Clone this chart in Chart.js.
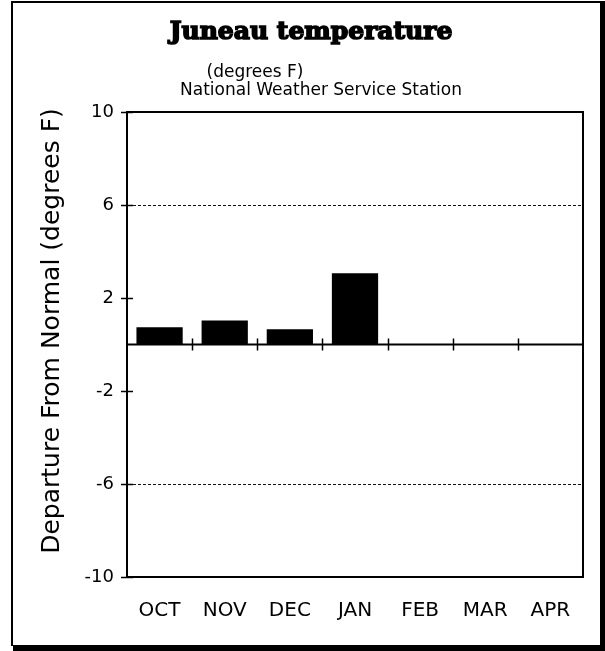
<!DOCTYPE html>
<html>
<head>
<meta charset="utf-8">
<title>Juneau temperature</title>
<script src="https://cdn.jsdelivr.net/npm/chart.js@4/dist/chart.umd.min.js"></script>
<style>
  html, body { margin: 0; padding: 0; background: #fff; }
  canvas { display: block; }
</style>
</head>
<body>
<canvas id="chart" width="605" height="651"></canvas>
<script>
// Monthly departure from normal temperature, Juneau (degrees F)
const months = ['OCT', 'NOV', 'DEC', 'JAN', 'FEB', 'MAR', 'APR'];
const departures = [0.74, 1.03, 0.66, 3.06, null, null, null];
const yTickValues = [-10, -6, -2, 2, 6, 10];
const dottedGridValues = [-6, 6];

const titleText = 'Juneau temperature';
const subtitleText = '(degrees F)';
const sourceText = 'National Weather Service Station';
const yAxisTitle = 'Departure From Normal (degrees F)';

const SANS = '"DejaVu Sans", "Liberation Sans", sans-serif';

// Page frame, headings, plot frame, zero line and tick marks
const decorations = {
  id: 'decorations',
  beforeDraw(chart) {
    const ctx = chart.ctx;
    ctx.save();
    ctx.fillStyle = '#fff';
    ctx.fillRect(0, 0, chart.width, chart.height);
    ctx.restore();
  },
  afterDraw(chart) {
    const ctx = chart.ctx;
    const area = chart.chartArea;
    const x = chart.scales.x;
    const y = chart.scales.y;
    ctx.save();

    // outer frame with heavy right/bottom edges
    ctx.fillStyle = '#000';
    ctx.fillRect(11, 1, 2, 645);
    ctx.fillRect(11, 1, 591, 2);
    ctx.fillRect(600, 1, 5, 650);
    ctx.fillRect(13, 645, 592, 6);

    // headings
    ctx.fillStyle = '#000';
    ctx.strokeStyle = '#000';
    ctx.textAlign = 'center';
    ctx.textBaseline = 'alphabetic';
    ctx.font = 'bold 25px "DejaVu Serif", serif';
    ctx.lineWidth = 1.6;
    ctx.fillText(titleText, 311, 39);
    ctx.strokeText(titleText, 311, 39);
    ctx.font = '17px ' + SANS;
    ctx.fillText(subtitleText, 255, 77);
    ctx.fillText(sourceText, 321, 95);

    // rotated y axis title
    ctx.save();
    ctx.translate(52, 331);
    ctx.rotate(-Math.PI / 2);
    ctx.font = '25px ' + SANS;
    ctx.textBaseline = 'middle';
    ctx.fillText(yAxisTitle, 0, 0);
    ctx.restore();

    // solid plot frame
    ctx.strokeStyle = '#000';
    ctx.lineWidth = 2;
    ctx.strokeRect(area.left, area.top, area.right - area.left, area.bottom - area.top);

    // y tick marks crossing the axis
    ctx.lineWidth = 1.5;
    yTickValues.forEach(v => {
      const py = Math.round(y.getPixelForValue(v)) + 0.5;
      ctx.beginPath();
      ctx.moveTo(area.left - 6, py);
      ctx.lineTo(area.left + 6, py);
      ctx.stroke();
    });

    // zero line with category separators
    const y0 = y.getPixelForValue(0);
    ctx.lineWidth = 2;
    ctx.beginPath();
    ctx.moveTo(area.left, y0);
    ctx.lineTo(area.right, y0);
    ctx.stroke();
    ctx.lineWidth = 1.5;
    for (let i = 0; i < months.length - 1; i++) {
      const px = Math.round((x.getPixelForValue(i) + x.getPixelForValue(i + 1)) / 2) + 0.5;
      ctx.beginPath();
      ctx.moveTo(px, y0 - 6);
      ctx.lineTo(px, y0 + 6);
      ctx.stroke();
    }
    ctx.restore();
  }
};

new Chart(document.getElementById('chart'), {
  type: 'bar',
  data: {
    labels: months,
    datasets: [{
      data: departures,
      backgroundColor: '#000',
      borderWidth: 0,
      categoryPercentage: 1.0,
      barPercentage: 0.71
    }]
  },
  options: {
    responsive: false,
    animation: false,
    devicePixelRatio: 1,
    layout: { padding: { top: 112, right: 22, left: 0, bottom: 0 } },
    plugins: {
      legend: { display: false },
      title: { display: false },
      tooltip: { enabled: false }
    },
    scales: {
      x: {
        grid: { display: true, drawOnChartArea: false, drawTicks: false, offset: true },
        border: { display: true, color: '#000', width: 2 },
        ticks: {
          color: '#000',
          padding: 22,
          maxRotation: 0,
          autoSkip: false,
          font: { family: SANS, size: 20 }
        },
        afterFit(scale) { scale.height = 74; }
      },
      y: {
        min: -10,
        max: 10,
        afterBuildTicks(scale) {
          scale.ticks = yTickValues.map(v => ({ value: v }));
        },
        grid: {
          drawTicks: false,
          color: ctx => dottedGridValues.includes(ctx.tick && ctx.tick.value) ? '#111' : 'rgba(0,0,0,0)',
          lineWidth: 1
        },
        border: { display: true, color: '#000', width: 2, dash: [3, 2] },
        ticks: {
          color: '#000',
          padding: 13,
          font: { family: SANS, size: 18 }
        },
        afterFit(scale) { scale.width = 127; }
      }
    }
  },
  plugins: [decorations]
});
</script>
</body>
</html>
